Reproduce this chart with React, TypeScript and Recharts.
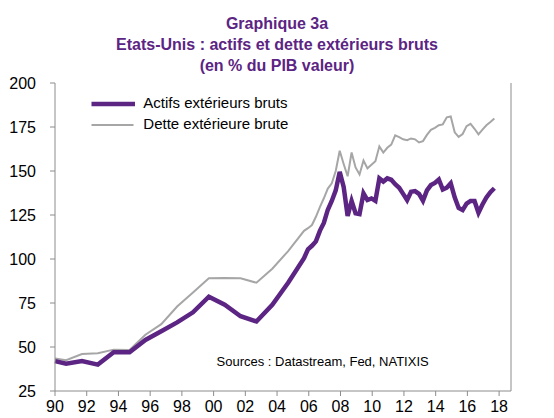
import React from 'react';
import { LineChart, Line, XAxis, YAxis, Legend } from 'recharts';

// dates as decimal years: annual points until 2005, quarterly after
const dates = [
  1990.0, 1990.7, 1991.7, 1992.7, 1993.7, 1994.7, 1995.7, 1996.7, 1997.7, 1998.7,
  1999.7, 2000.7, 2001.7, 2002.7, 2003.7, 2004.7,
  2005.7, 2005.95, 2006.2, 2006.45, 2006.7, 2006.95, 2007.2, 2007.45, 2007.7, 2007.95,
  2008.2, 2008.45, 2008.7, 2008.95, 2009.2, 2009.45, 2009.7, 2009.95, 2010.2, 2010.45,
  2010.7, 2010.95, 2011.2, 2011.45, 2011.7, 2011.95, 2012.2, 2012.45, 2012.7, 2012.95,
  2013.2, 2013.45, 2013.7, 2013.95, 2014.2, 2014.45, 2014.7, 2014.95, 2015.2, 2015.45,
  2015.7, 2015.95, 2016.2, 2016.45, 2016.7, 2016.95, 2017.2, 2017.45, 2017.7,
];

// Actifs extérieurs bruts (% du PIB)
const actifs = [
  42, 40.5, 42, 40, 47, 47, 54, 59, 64, 69.7,
  78.6, 74, 67.5, 64.5, 74, 86.5,
  100.5, 105.5, 107.5, 110, 116, 120.5, 128, 133, 139, 149.5,
  141, 124.5, 133, 126, 125.5, 137.3, 133.5, 134.4, 133, 145.8,
  144, 145.8, 145, 142.5, 140.5, 137, 133.5, 138.2, 138.6, 137,
  133.1, 139, 142, 143.2, 145.2, 139.5, 140.5, 143, 135, 129,
  127.8, 131.5, 133, 133, 126.3, 131, 135, 138, 140.2,
];

// Dette extérieure brute (% du PIB)
const dette = [
  43.5, 42.5, 46, 46.5, 48.5, 48.3, 57, 63, 73, 81,
  89, 89.2, 89, 86.5, 94.5, 104.5,
  116, 117.5, 119.3, 124, 129.5, 134.5, 140, 143, 150, 161.5,
  154, 147, 160.5, 152, 148, 156, 151.5, 153.5, 155.5, 164,
  160.5, 163.2, 165, 170.2, 169.2, 168, 167.5, 168.5, 168, 166.2,
  167, 170.5, 173.4, 174.5, 176, 176.5, 180.5, 181, 172, 169.4,
  171, 175.5, 176.8, 174, 170.8, 173.5, 176, 177.8, 179.8,
];

const xTicks = [1990, 1992, 1994, 1996, 1998, 2000, 2002, 2004, 2006, 2008, 2010, 2012, 2014, 2016, 2018];
const yTicks = [25, 50, 75, 100, 125, 150, 175, 200];

const seriesNames = ['Actifs extérieurs bruts', 'Dette extérieure brute'];

const data = dates.map((t, i) => ({ t, actifs: actifs[i], dette: dette[i] }));

const PURPLE = '#5c2483';
const GREY = '#a6a6a6';
const AXIS = '#8c8c8c';
const FONT = '"Liberation Sans", Arial, sans-serif';

const LegendBox = () => (
  <svg width={230} height={46} style={{ display: 'block' }}>
    <line x1={6.5} x2={50} y1={14} y2={14} stroke={PURPLE} strokeWidth={4.5} />
    <text x={58.3} y={18.3} fontSize={15} fontFamily={FONT} fill="#000">{seriesNames[0]}</text>
    <line x1={6.5} x2={48.5} y1={35} y2={35} stroke={GREY} strokeWidth={2} />
    <text x={58.3} y={39.3} fontSize={15} fontFamily={FONT} fill="#000">{seriesNames[1]}</text>
  </svg>
);

export default function App() {
  const tickStyle = { fontSize: 16, fill: '#000', fontFamily: FONT };
  return (
    <div style={{ position: 'absolute', left: 0, top: 0, width: 554, height: 418, background: '#fff', fontFamily: FONT }}>
      <div style={{ position: 'absolute', top: 13, left: 0, width: 554, textAlign: 'center', fontWeight: 'bold', fontSize: 16, lineHeight: '21px', color: PURPLE }}>
        <div>Graphique 3a</div>
        <div>Etats-Unis : actifs et dette extérieurs bruts</div>
        <div>(en % du PIB valeur)</div>
      </div>
      <LineChart width={554} height={418} data={data} margin={{ top: 83, right: 0, bottom: 0, left: 0 }}>
        <XAxis
          dataKey="t"
          type="number"
          domain={[1990, 2018.75]}
          ticks={xTicks}
          tickFormatter={(v: number) => String(v % 100).padStart(2, '0')}
          height={27}
          tickSize={5}
          tickMargin={5}
          stroke={AXIS}
          tick={tickStyle}
          interval={0}
        />
        <YAxis
          yAxisId="left"
          domain={[25, 200]}
          ticks={yTicks}
          width={55}
          tickSize={5}
          tickMargin={14}
          stroke={AXIS}
          tick={tickStyle}
          interval={0}
        />
        <YAxis
          yAxisId="right"
          orientation="right"
          domain={[25, 200]}
          ticks={yTicks}
          width={43}
          tickSize={5}
          tickMargin={9}
          stroke={AXIS}
          tick={tickStyle}
          interval={0}
        />
        <Legend
          layout="vertical"
          align="center"
          verticalAlign="middle"
          content={() => <LegendBox />}
          wrapperStyle={{ top: 90, left: 85, width: 230, height: 46 }}
        />
        <Line yAxisId="left" dataKey="dette" stroke={GREY} strokeWidth={2} dot={false} isAnimationActive={false} />
        <Line yAxisId="left" dataKey="actifs" stroke={PURPLE} strokeWidth={4.5} dot={false} isAnimationActive={false} />
      </LineChart>
      <div style={{ position: 'absolute', left: 216.5, top: 354, fontSize: 13, color: '#000', whiteSpace: 'nowrap' }}>
        Sources : Datastream, Fed, NATIXIS
      </div>
    </div>
  );
}
